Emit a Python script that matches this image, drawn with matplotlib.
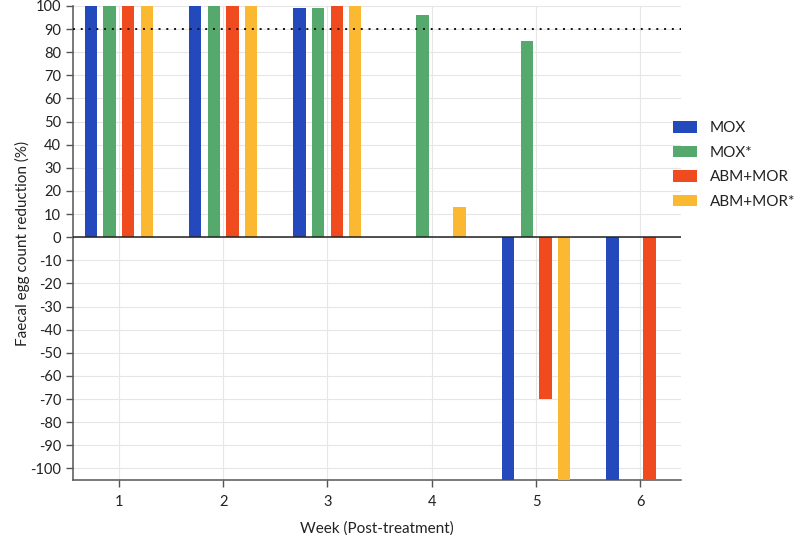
import numpy as np
import matplotlib
matplotlib.use("Agg")
import matplotlib.pyplot as plt

plt.rcParams['font.family'] = ['Lato', 'DejaVu Sans']

weeks = [1, 2, 3, 4, 5, 6]
series_names = ["MOX", "MOX*", "ABM+MOR", "ABM+MOR*"]
mox = [100, 100, 99, np.nan, -105, -105]
mox_star = [100, 100, 99, 96, 85, np.nan]
abm_mor = [100, 100, 100, np.nan, -70, -105]
abm_mor_star = [100, 100, 100, 13, -105, np.nan]
colors = ["#2349BD", "#55A96C", "#F04B1F", "#FBB831"]
y_ticks = list(range(-100, 101, 10))
threshold = 90

fig = plt.figure(figsize=(7.97, 5.35), dpi=100)
ax = fig.add_axes([0.0916, 0.1028, 0.7629, 0.886])

offsets = [-0.267, -0.089, 0.089, 0.267]
width = 0.118
x = np.array(weeks, dtype=float)
for vals, name, col, off in zip([mox, mox_star, abm_mor, abm_mor_star], series_names, colors, offsets):
    ax.bar(x + off, vals, width=width, color=col, label=name, zorder=3)

ax.set_xlim(0.56, 6.39)
ax.set_ylim(-105, 100)
ax.set_yticks(y_ticks)
ax.set_yticklabels([str(v) for v in y_ticks])
ax.set_xticks(weeks)
ax.set_xticklabels([str(w) for w in weeks])

ax.grid(True, color="#E6E6E6", linewidth=0.8, zorder=0)
ax.set_axisbelow(True)
ax.axhline(0, color="#222222", linewidth=1.1, zorder=4)
ax.axhline(threshold, color="#111111", linewidth=1.4, linestyle=(0, (1, 3)), zorder=5)

for s in ["top", "right"]:
    ax.spines[s].set_visible(False)
for s in ["left", "bottom"]:
    ax.spines[s].set_color("#555555")
    ax.spines[s].set_linewidth(1.1)
ax.tick_params(axis="both", direction="out", length=5, width=1, color="#555555",
               labelsize=10.5, labelcolor="#222222")
ax.tick_params(axis="x", pad=6)

ax.set_xlabel("Week (Post-treatment)", fontsize=11, color="#222222", labelpad=9)
ax.set_ylabel("Faecal egg count reduction (%)", fontsize=11, color="#222222", labelpad=0)

leg = fig.legend(loc="upper left", bbox_to_anchor=(673 / 797, 1 - 121 / 535),
                 bbox_transform=fig.transFigure, frameon=False, borderpad=0,
                 borderaxespad=0, fontsize=11, handlelength=1.6, handleheight=0.8,
                 handletextpad=0.8, labelspacing=0.68)
for t in leg.get_texts():
    t.set_color("#222222")

fig.savefig("out.png", dpi=100)
